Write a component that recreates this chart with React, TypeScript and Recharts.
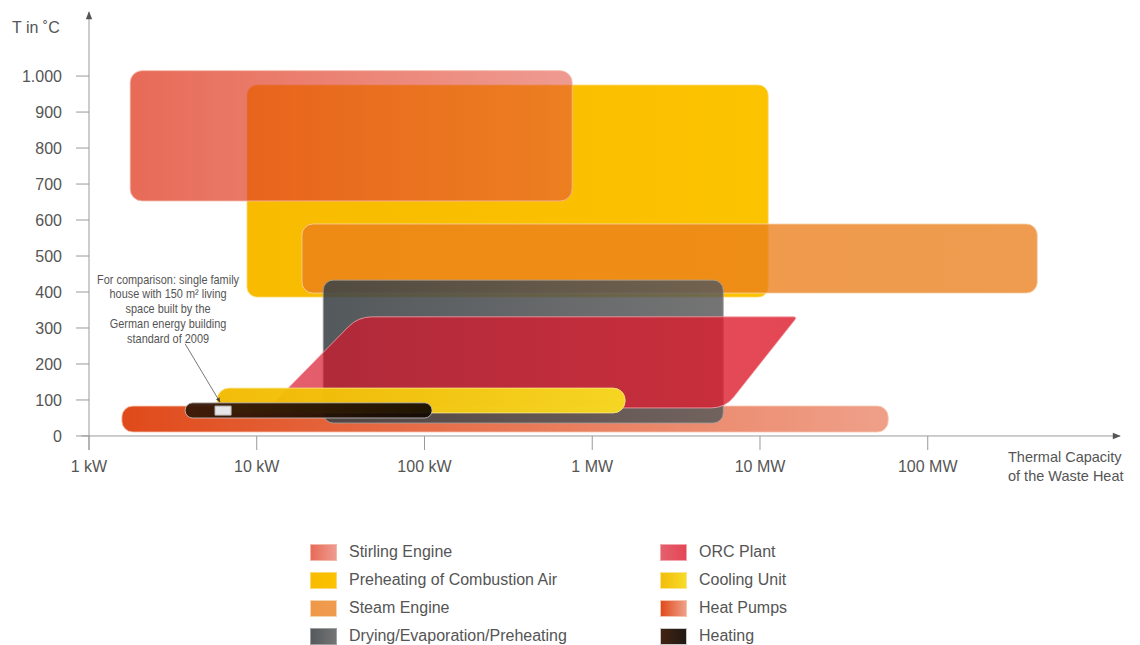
import { ComposedChart, XAxis, YAxis, ReferenceArea, ReferenceLine, ReferenceDot } from 'recharts';

// axis ticks
const X_TICKS = [1, 10, 100, 1000, 10000, 100000];
const X_TICK_LABELS = ['1 kW', '10 kW', '100 kW', '1 MW', '10 MW', '100 MW'];
const Y_TICKS = [0, 100, 200, 300, 400, 500, 600, 700, 800, 900, 1000];
const Y_TICK_LABELS = ['0', '100', '200', '300', '400', '500', '600', '700', '800', '900', '1.000'];

// technologies in drawing order (bottom to top); capacity in kW, temperature in °C
const TECHS = [
  'Heat Pumps',
  'Preheating of Combustion Air',
  'Stirling Engine',
  'Steam Engine',
  'Drying/Evaporation/Preheating',
  'ORC Plant',
  'Cooling Unit',
  'Heating',
];
const KW_MIN = [1.57, 8.75, 1.76, 18.6, 24.9, 11.8, 5.8, 3.74];
const KW_MAX = [58100, 11190, 759, 450000, 6040, 16680, 1571, 111];
const T_MIN = [11, 386, 653, 397, 36, 78, 64, 50];
const T_MAX = [83, 975, 1015, 589, 433, 331, 133, 92];

// ORC plant is slanted: top edge starts later, bottom edge ends earlier
const ORC_TOP_LEFT_KW = 40.2;
const ORC_BOTTOM_RIGHT_KW = 6200;

// single family house marker + note
const HOUSE_KW = [5.64, 7.03];
const HOUSE_T = [58, 83];
const NOTE_LINES = [
  'For comparison: single family',
  'house with 150 m² living',
  'space built by the',
  'German energy building',
  'standard of 2009',
];
const NOTE_KW = 2.96;
const NOTE_T = 436;
const NOTE_ARROW_KW = [3.74, 6.04];
const NOTE_ARROW_T = [256, 94];

const LEGEND_LEFT = ['Stirling Engine', 'Preheating of Combustion Air', 'Steam Engine', 'Drying/Evaporation/Preheating'];
const LEGEND_RIGHT = ['ORC Plant', 'Cooling Unit', 'Heat Pumps', 'Heating'];

const X_MAX = 1.4e6;
const FONT = '"Liberation Sans", Arial, sans-serif';
const TEXT = '#555';
const AXIS = '#9a9a9a';

const STYLE: Record<string, { from: string; to: string; op0: number; op1: number; stroke: string; r: number }> = {
  'Heat Pumps': { from: '#e04a1a', to: '#e4603a', op0: 1, op1: 0.6, stroke: '#f6c4ae', r: 11 },
  'Preheating of Combustion Air': { from: '#f8bb00', to: '#fcc300', op0: 1, op1: 1, stroke: '#fcd870', r: 10 },
  'Stirling Engine': { from: '#e03c22', to: '#e24c3a', op0: 0.76, op1: 0.56, stroke: '#f4b8aa', r: 12 },
  'Steam Engine': { from: '#eb7e1a', to: '#eb801e', op0: 0.8, op1: 0.78, stroke: '#f6d4ae', r: 11 },
  'Drying/Evaporation/Preheating': { from: '#3c4246', to: '#5a5a5a', op0: 0.88, op1: 0.84, stroke: '#a0a0a0', r: 10 },
  'ORC Plant': { from: '#d8142a', to: '#de1e2e', op0: 0.68, op1: 0.82, stroke: '#f2a6ae', r: 12 },
  'Cooling Unit': { from: '#f2ba00', to: '#f7da22', op0: 0.96, op1: 0.97, stroke: '#fae690', r: 12 },
  'Heating': { from: '#3a1a08', to: '#0e0600', op0: 0.96, op1: 0.92, stroke: '#c8c8c8', r: 8 },
};

const gid = (name: string) => 'g-' + TECHS.indexOf(name);

function RoundBox({ x, y, width, height, name }: any) {
  const s = STYLE[name];
  const r = Math.min(s.r, height / 2);
  return (
    <rect x={x} y={y} width={width} height={height} rx={r} ry={r}
      fill={`url(#${gid(name)})`} stroke={s.stroke} strokeWidth={1} strokeOpacity={0.8} />
  );
}

function roundedPath(pts: number[][], radii: number[]) {
  const n = pts.length;
  let d = '';
  for (let i = 0; i < n; i++) {
    const p = pts[i], prev = pts[(i + n - 1) % n], next = pts[(i + 1) % n];
    const r = radii[i];
    const l1 = Math.hypot(prev[0] - p[0], prev[1] - p[1]);
    const l2 = Math.hypot(next[0] - p[0], next[1] - p[1]);
    const a = [p[0] + (prev[0] - p[0]) * r / l1, p[1] + (prev[1] - p[1]) * r / l1];
    const b = [p[0] + (next[0] - p[0]) * r / l2, p[1] + (next[1] - p[1]) * r / l2];
    d += (i === 0 ? 'M' : 'L') + a[0] + ',' + a[1] + ' Q' + p[0] + ',' + p[1] + ' ' + b[0] + ',' + b[1] + ' ';
  }
  return d + 'Z';
}

function OrcShape({ x, y, width, height }: any) {
  const i = TECHS.indexOf('ORC Plant');
  const lo = Math.log(KW_MIN[i]);
  const span = Math.log(KW_MAX[i]) - lo;
  const xTL = x + width * (Math.log(ORC_TOP_LEFT_KW) - lo) / span;
  const xBR = x + width * (Math.log(ORC_BOTTOM_RIGHT_KW) - lo) / span;
  const pts = [[x, y + height], [xTL, y], [x + width, y], [xBR, y + height]];
  const s = STYLE['ORC Plant'];
  return <path d={roundedPath(pts, [3, 14, 4, 14])} fill={`url(#${gid('ORC Plant')})`} stroke={s.stroke} strokeWidth={1} strokeOpacity={0.8} />;
}

// narrow, condensed note text (squeezed horizontally around its centre)
function NoteShape({ cx, cy }: any) {
  return (
    <g transform={`translate(${cx},0) scale(0.84,1) translate(${-cx},0)`}>
      <text x={cx} y={cy + 4.5} textAnchor="middle" fill={TEXT} fontSize={13} style={{ fontFamily: FONT }}>
        {NOTE_LINES.map((l, k) => (
          <tspan key={k} x={cx} dy={k === 0 ? 0 : 14.8}>{l}</tspan>
        ))}
      </text>
    </g>
  );
}

function XTick({ x, y, payload }: any) {
  const i = X_TICKS.indexOf(payload.value);
  return (
    <g>
      <line x1={x} x2={x} y1={y - 14} y2={y} stroke={AXIS} />
      <text x={x} y={y + 22} textAnchor="middle" fill={TEXT} fontSize={16} style={{ fontFamily: FONT }}>
        {X_TICK_LABELS[i]}
      </text>
    </g>
  );
}

function LegendItem({ name }: { name: string }) {
  const s = STYLE[name];
  const hex = (o: number) => Math.round(o * 255).toString(16).padStart(2, '0');
  return (
    <div style={{ display: 'flex', alignItems: 'center', height: 28 }}>
      <div style={{
        width: 25, height: 15, boxSizing: 'content-box',
        border: `1px solid ${s.stroke}`,
        background: `linear-gradient(to right, ${s.from}${hex(s.op0)}, ${s.to}${hex(s.op1)})`,
      }} />
      <span style={{ marginLeft: 12, fontSize: 16, color: TEXT }}>{name}</span>
    </div>
  );
}

export default function App() {
  return (
    <div style={{ position: 'absolute', left: 0, top: 0, width: 1140, height: 645, background: '#fff', fontFamily: FONT }}>
      <ComposedChart width={1140} height={645} margin={{ top: 12, right: 20, bottom: 165, left: 0 }}>
        <defs>
          {TECHS.map((n) => (
            <linearGradient key={n} id={gid(n)} x1="0" y1="0" x2="1" y2="0">
              <stop offset="0%" stopColor={STYLE[n].from} stopOpacity={STYLE[n].op0} />
              <stop offset="100%" stopColor={STYLE[n].to} stopOpacity={STYLE[n].op1} />
            </linearGradient>
          ))}
          <marker id="arrowHead" viewBox="0 0 10 10" refX="9" refY="5" markerWidth="10" markerHeight="8"
            markerUnits="userSpaceOnUse" orient="auto-start-reverse">
            <path d="M0,1 L10,5 L0,9 Z" fill="#555" />
          </marker>
          <marker id="noteHead" viewBox="0 0 10 10" refX="9" refY="5" markerWidth="5" markerHeight="5"
            markerUnits="userSpaceOnUse" orient="auto">
            <path d="M0,1 L10,5 L0,9 Z" fill="#444" />
          </marker>
        </defs>
        <XAxis type="number" dataKey="x" scale="log" domain={[1, X_MAX]} ticks={X_TICKS} allowDataOverflow
          axisLine={false} tickLine={false} tickSize={0} tickMargin={0} tick={<XTick />} interval={0} />
        <YAxis type="number" dataKey="y" domain={[-39, 1178]} ticks={Y_TICKS} width={89} interval={0} allowDataOverflow
          tickFormatter={(v: number) => Y_TICK_LABELS[Y_TICKS.indexOf(v)]}
          tick={{ fill: TEXT, fontSize: 16, fontFamily: FONT }}
          tickSize={13} tickMargin={14} tickLine={{ stroke: AXIS }}
          axisLine={{ stroke: AXIS, markerStart: 'url(#arrowHead)' } as any} />
        <ReferenceLine segment={[{ x: 0.9, y: 0 }, { x: X_MAX, y: 0 }]} ifOverflow="visible"
          stroke={AXIS} strokeWidth={1} markerEnd="url(#arrowHead)" />
        {TECHS.map((n, i) => (
          <ReferenceArea key={n} x1={KW_MIN[i]} x2={KW_MAX[i]} y1={T_MIN[i]} y2={T_MAX[i]} ifOverflow="visible"
            shape={n === 'ORC Plant' ? (p: any) => <OrcShape {...p} /> : (p: any) => <RoundBox {...p} name={n} />} />
        ))}
        <ReferenceArea x1={HOUSE_KW[0]} x2={HOUSE_KW[1]} y1={HOUSE_T[0]} y2={HOUSE_T[1]} ifOverflow="visible"
          fill="#e6e6e6" fillOpacity={1} stroke="#b8b8b8" />
        <ReferenceLine segment={[{ x: NOTE_ARROW_KW[0], y: NOTE_ARROW_T[0] }, { x: NOTE_ARROW_KW[1], y: NOTE_ARROW_T[1] }]}
          ifOverflow="visible" stroke="#555" strokeWidth={0.8} markerEnd="url(#noteHead)" />
        <ReferenceDot x={NOTE_KW} y={NOTE_T} r={0} ifOverflow="visible" shape={(p: any) => <NoteShape {...p} />} />
      </ComposedChart>

      <div style={{ position: 'absolute', left: 12, top: 19, fontSize: 16, lineHeight: '18px', color: TEXT }}>T in ˚C</div>
      <div style={{ position: 'absolute', left: 1008, top: 448, fontSize: 14.5, lineHeight: '19px', color: TEXT }}>
        Thermal Capacity<br />of the Waste Heat
      </div>

      <div style={{ position: 'absolute', left: 310, top: 538 }}>
        {LEGEND_LEFT.map((n) => <LegendItem key={n} name={n} />)}
      </div>
      <div style={{ position: 'absolute', left: 660, top: 538 }}>
        {LEGEND_RIGHT.map((n) => <LegendItem key={n} name={n} />)}
      </div>
    </div>
  );
}
